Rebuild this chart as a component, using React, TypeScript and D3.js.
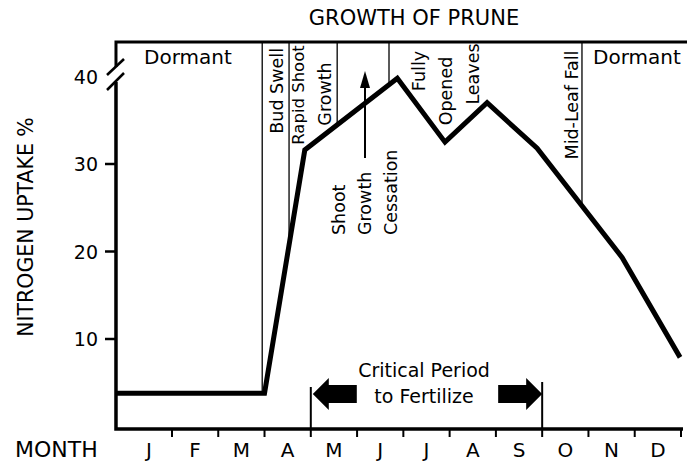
import React from "react";
import * as d3 from "d3";

// month letters along the bottom
const months = ["J", "F", "M", "A", "M", "J", "J", "A", "S", "O", "N", "D"];
const yTicks = [10, 20, 30, 40];

// nitrogen uptake %, position given in months (0 = start of Jan)
const uptakeMonth = [-0.21, 3.0, 3.87, 5.87, 6.9, 7.81, 8.89, 10.73, 11.98];
const uptakeValue = [3.8, 3.8, 31.6, 39.8, 32.5, 37.0, 31.8, 19.3, 7.9];

// thin vertical lines between growth stages (months)
const stageBounds = [2.95, 3.53, 4.57, 5.69, 9.86];
const criticalPeriod = [4, 9];

const W = 693;
const H = 464;
const FONT = "DejaVu Sans";

const x = d3.scaleLinear().domain([0, 12]).range([125.7, 681]);
const y = d3.scaleLinear().domain([0, 40]).range([426.5, 76.5]);

const axisX = x(uptakeMonth[0]);
const top = 42;
const bottom = 429;

const data = uptakeMonth.map((m, i) => ({ m, v: uptakeValue[i] }));

const valueAt = (m: number) => {
  const i = d3.bisectRight(uptakeMonth, m);
  const a = data[Math.max(0, i - 1)];
  const b = data[Math.min(data.length - 1, i)];
  if (a.m === b.m) return a.v;
  return a.v + ((m - a.m) / (b.m - a.m)) * (b.v - a.v);
};

const line = d3
  .line<{ m: number; v: number }>()
  .x((d) => x(d.m))
  .y((d) => y(d.v));

const Rot = ({ x, y, anchor = "middle", size = 17.5, children }: any) => (
  <text
    transform={`translate(${x},${y}) rotate(-90)`}
    textAnchor={anchor}
    fontSize={size}
  >
    {children}
  </text>
);

const App = () => {
  const [c0, c1] = criticalPeriod;
  const arrowY = 394;
  const leftTip = x(c0) + 2;
  const rightTip = x(c1);

  return (
    <svg
      width={W}
      height={H}
      style={{ position: "absolute", left: 0, top: 0, background: "#fff" }}
      fontFamily={FONT}
      fill="#000"
    >
      {/* title */}
      <text x={414} y={25} textAnchor="middle" fontSize={21}>
        GROWTH OF PRUNE
      </text>

      {/* frame with axis break */}
      <path
        d={`M${axisX},67 V${top} H687`}
        fill="none"
        stroke="#000"
        strokeWidth={3}
      />
      <path
        d={`M${axisX},82 V${bottom} H683`}
        fill="none"
        stroke="#000"
        strokeWidth={3.5}
      />
      <line x1={107} y1={75} x2={124} y2={59} stroke="#000" strokeWidth={2.5} />
      <line x1={107} y1={90} x2={124} y2={73} stroke="#000" strokeWidth={2.5} />

      {/* y ticks */}
      {yTicks.map((t) => (
        <g key={t}>
          {t < 40 && (
            <line
              x1={105}
              x2={axisX}
              y1={y(t)}
              y2={y(t)}
              stroke="#000"
              strokeWidth={2.5}
            />
          )}
          <text x={98} y={y(t) + 7} textAnchor="end" fontSize={19}>
            {t}
          </text>
        </g>
      ))}
      <text
        transform={`translate(33,227) rotate(-90)`}
        textAnchor="middle"
        fontSize={20.5}
      >
        NITROGEN UPTAKE %
      </text>

      {/* x ticks and months */}
      {months.map((mo, i) => (
        <g key={i}>
          <line
            x1={x(i + 1)}
            x2={x(i + 1)}
            y1={bottom}
            y2={437}
            stroke="#000"
            strokeWidth={2}
          />
          <text
            x={x((Math.max(uptakeMonth[0], i) + i + 1) / 2)}
            y={457}
            textAnchor="middle"
            fontSize={20}
          >
            {mo}
          </text>
        </g>
      ))}
      <text x={15} y={457} fontSize={22}>
        MONTH
      </text>

      {/* growth stage separators */}
      {stageBounds.map((m, i) => (
        <line
          key={i}
          x1={x(m)}
          x2={x(m)}
          y1={top}
          y2={y(valueAt(m))}
          stroke="#000"
          strokeWidth={1.3}
        />
      ))}

      {/* stage labels */}
      <text x={188} y={64} textAnchor="middle" fontSize={20}>
        Dormant
      </text>
      <text x={637} y={64} textAnchor="middle" fontSize={20}>
        Dormant
      </text>
      <Rot x={283} y={48} anchor="end">Bud Swell</Rot>
      <Rot x={304} y={95} size={16.5}>Rapid Shoot</Rot>
      <Rot x={331} y={94}>Growth</Rot>
      <Rot x={345} y={235} anchor="start">Shoot</Rot>
      <Rot x={371} y={235} anchor="start">Growth</Rot>
      <Rot x={397} y={235} anchor="start">Cessation</Rot>
      <Rot x={425} y={71}>Fully</Rot>
      <Rot x={452} y={91}>Opened</Rot>
      <Rot x={479} y={74}>Leaves</Rot>
      <Rot x={578} y={105}>Mid-Leaf Fall</Rot>

      {/* shoot growth cessation arrow */}
      <line x1={365} x2={365} y1={158} y2={86} stroke="#000" strokeWidth={2} />
      <path d="M365,71 L370,88 L360,88 Z" />

      {/* nitrogen uptake line */}
      <path
        d={line(data) ?? ""}
        fill="none"
        stroke="#000"
        strokeWidth={5}
        strokeLinejoin="miter"
      />

      {/* critical period */}
      <line x1={x(c0)} x2={x(c0)} y1={387} y2={bottom} stroke="#000" strokeWidth={2} />
      <line x1={x(c1)} x2={x(c1)} y1={382} y2={bottom} stroke="#000" strokeWidth={2} />
      <path
        d={`M${leftTip},${arrowY} L${leftTip + 16},${arrowY - 16} L${leftTip + 16},${arrowY - 9} L${leftTip + 44},${arrowY - 9} L${leftTip + 44},${arrowY + 9} L${leftTip + 16},${arrowY + 9} L${leftTip + 16},${arrowY + 16} Z`}
      />
      <path
        d={`M${rightTip},${arrowY} L${rightTip - 16},${arrowY - 16} L${rightTip - 16},${arrowY - 9} L${rightTip - 44},${arrowY - 9} L${rightTip - 44},${arrowY + 9} L${rightTip - 16},${arrowY + 9} L${rightTip - 16},${arrowY + 16} Z`}
      />
      <text x={424} y={377} textAnchor="middle" fontSize={19}>
        Critical Period
      </text>
      <text x={424} y={403} textAnchor="middle" fontSize={19}>
        to Fertilize
      </text>
    </svg>
  );
};

export default App;
